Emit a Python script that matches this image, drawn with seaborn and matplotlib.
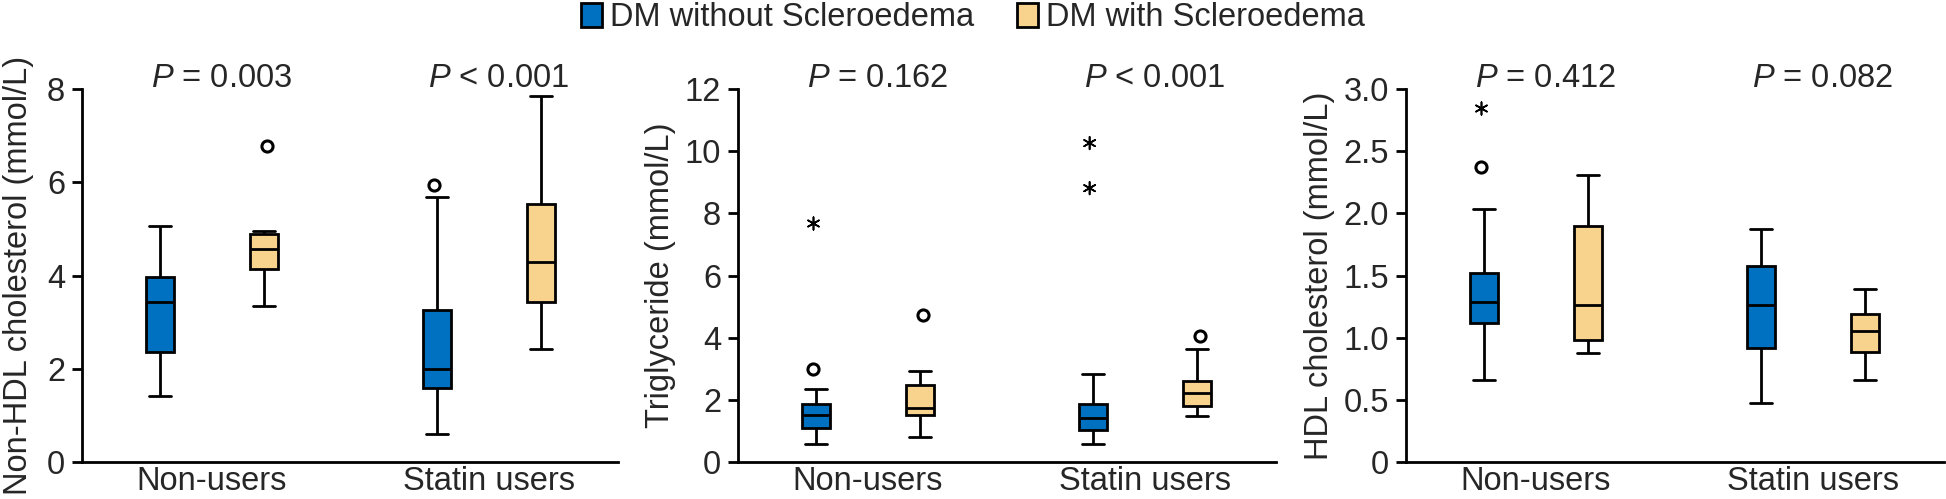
import numpy as np
import pandas as pd
import matplotlib
matplotlib.use("Agg")
import matplotlib.pyplot as plt
import seaborn as sns
from matplotlib.patches import Patch

# ---------------- data ----------------
GROUPS = ["Non-users", "Statin users"]
SERIES = ["DM without Scleroedema", "DM with Scleroedema"]
COLORS = ["#0070C0", "#F8D38D"]

# five-number summaries [min, Q1, median, Q3, max] per group (Non-users, Statin users)
NONHDL_WITHOUT = [[1.41, 2.35, 3.44, 3.96, 5.06], [0.61, 1.59, 2.00, 3.25, 5.68]]
NONHDL_WITH = [[3.35, 4.15, 4.56, 4.90, 4.95], [2.43, 3.44, 4.29, 5.53, 7.86]]
NONHDL_CIRCLES = [("Statin users", SERIES[0], 5.95), ("Non-users", SERIES[1], 6.77)]
NONHDL_STARS = []

TG_WITHOUT = [[0.58, 1.08, 1.50, 1.85, 2.36], [0.58, 1.03, 1.40, 1.88, 2.82]]
TG_WITH = [[0.80, 1.52, 1.74, 2.47, 2.92], [1.47, 1.79, 2.21, 2.60, 3.63]]
TG_CIRCLES = [("Non-users", SERIES[0], 2.99), ("Non-users", SERIES[1], 4.72),
              ("Statin users", SERIES[1], 4.04)]
TG_STARS = [("Non-users", SERIES[0], 7.69), ("Statin users", SERIES[0], 10.26),
            ("Statin users", SERIES[0], 8.81)]

HDL_WITHOUT = [[0.66, 1.117, 1.285, 1.517, 2.036], [0.476, 0.914, 1.266, 1.576, 1.875]]
HDL_WITH = [[0.88, 0.978, 1.264, 1.897, 2.31], [0.657, 0.884, 1.05, 1.19, 1.39]]
HDL_CIRCLES = [("Non-users", SERIES[0], 2.37)]
HDL_STARS = [("Non-users", SERIES[0], 2.85)]

P_LABELS = [["= 0.003", "< 0.001"], ["= 0.162", "< 0.001"], ["= 0.412", "= 0.082"]]
Y_LABELS = ["Non-HDL cholesterol (mmol/L)", "Triglyceride (mmol/L)", "HDL cholesterol (mmol/L)"]
Y_TICKS = [[0, 2, 4, 6, 8], [0, 2, 4, 6, 8, 10, 12], [0, 0.5, 1.0, 1.5, 2.0, 2.5, 3.0]]
Y_TICKLABELS = [["0", "2", "4", "6", "8"], ["0", "2", "4", "6", "8", "10", "12"],
                ["0", "0.5", "1.0", "1.5", "2.0", "2.5", "3.0"]]


def long_frame(without, with_):
    rows = []
    for s, arr in zip(SERIES, [without, with_]):
        for g, vals in zip(GROUPS, arr):
            for v in vals:
                rows.append((g, s, v))
    return pd.DataFrame(rows, columns=["group", "series", "value"])


def pts_frame(pts):
    return pd.DataFrame(pts, columns=["group", "series", "value"])


PANELS = [
    (long_frame(NONHDL_WITHOUT, NONHDL_WITH), NONHDL_CIRCLES, NONHDL_STARS),
    (long_frame(TG_WITHOUT, TG_WITH), TG_CIRCLES, TG_STARS),
    (long_frame(HDL_WITHOUT, HDL_WITH), HDL_CIRCLES, HDL_STARS),
]

# ---------------- style ----------------
sns.set_theme(style="ticks")
plt.rcParams["font.family"] = ["Liberation Sans", "DejaVu Sans"]
plt.rcParams["mathtext.fontset"] = "custom"
plt.rcParams["mathtext.rm"] = "Liberation Sans"
plt.rcParams["mathtext.it"] = "Liberation Sans:italic"

FS = 23.5
W, H = 1946, 499
fig = plt.figure(figsize=(W / 100, H / 100), dpi=100)

lefts = [82, 738, 1406]
widths = [536, 538, 538]
labelpads = [9, 6, 6]
ax_bottom_px, ax_top_px = 462, 89

for i, (df, circles, stars) in enumerate(PANELS):
    ax = fig.add_axes([lefts[i] / W, (H - ax_bottom_px) / H, widths[i] / W,
                       (ax_bottom_px - ax_top_px) / H])
    sns.boxplot(data=df, x="group", y="value", hue="series", order=GROUPS,
                hue_order=SERIES, palette=COLORS, saturation=1, width=0.75,
                gap=0.73, whis=(0, 100), showfliers=False, linecolor="black",
                linewidth=2, legend=False, ax=ax, capwidths=0.08)
    if circles:
        sns.stripplot(data=pts_frame(circles), x="group", y="value", hue="series",
                      order=GROUPS, hue_order=SERIES, palette=["white", "white"],
                      dodge=True, jitter=False, marker="o", size=8,
                      edgecolor="black", linewidth=2.2, legend=False, ax=ax)
    if stars:
        sns.stripplot(data=pts_frame(stars), x="group", y="value", hue="series",
                      order=GROUPS, hue_order=SERIES, palette=["black", "black"],
                      dodge=True, jitter=False, marker=(6, 2, 0), size=9,
                      edgecolor="black", linewidth=1.2, legend=False, ax=ax)

    unit = 277.0
    ax.set_xlim(-130 / unit, (widths[i] - 130) / unit)
    ax.set_ylim(0, Y_TICKS[i][-1])
    ax.set_yticks(Y_TICKS[i])
    ax.set_yticklabels(Y_TICKLABELS[i])
    ax.set_xlabel("")
    ax.set_ylabel(Y_LABELS[i], fontsize=FS, labelpad=labelpads[i])
    ax.tick_params(axis="y", labelsize=FS, length=7.2, width=2, color="black", pad=5)
    ax.tick_params(axis="x", labelsize=FS, length=0, pad=3)
    for s in ["top", "right"]:
        ax.spines[s].set_visible(False)
    for s in ["left", "bottom"]:
        ax.spines[s].set_linewidth(2)
        ax.spines[s].set_color("black")
    ax.grid(False)
    for j, lab in enumerate(P_LABELS[i]):
        ax.text(j + 0.033, 1.005, r"$\mathit{P}$ " + lab, transform=ax.get_xaxis_transform(),
                ha="center", va="baseline", fontsize=FS)

handles = [Patch(facecolor=c, edgecolor="black", linewidth=2, label=s)
           for c, s in zip(COLORS, SERIES)]
fig.legend(handles=handles, loc="upper center", bbox_to_anchor=(0.5, 0.996), ncol=2,
           frameon=False, fontsize=FS, handlelength=0.65, handleheight=0.75,
           handletextpad=0.25, columnspacing=1.3, borderaxespad=0, borderpad=0.0)

fig.savefig("out.png", dpi=100)
